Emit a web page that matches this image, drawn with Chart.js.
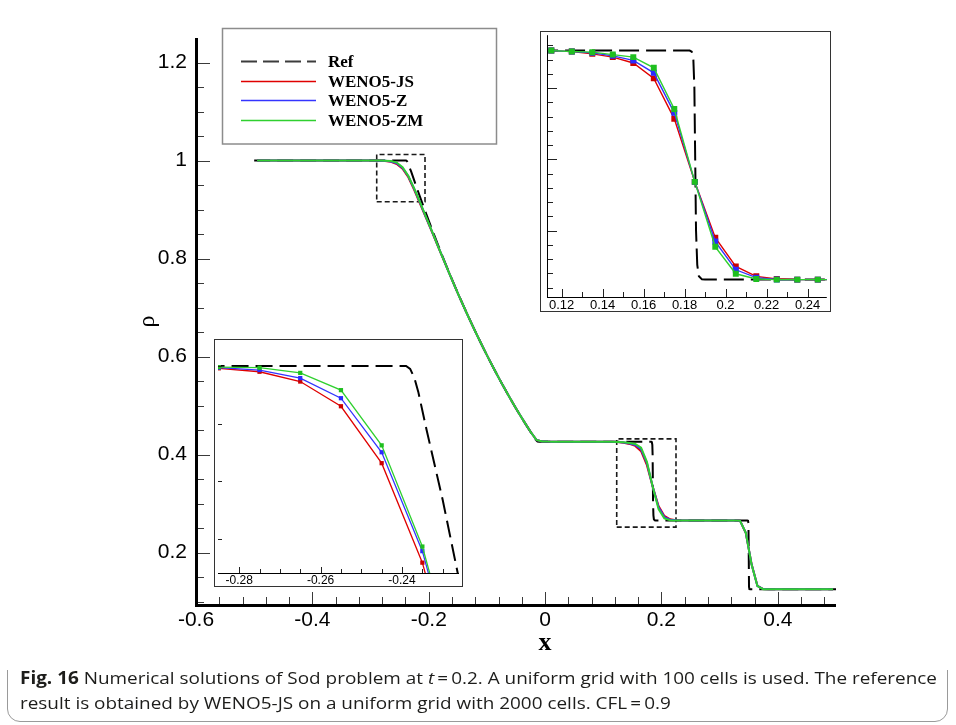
<!DOCTYPE html>
<html><head><meta charset="utf-8">
<script src="https://cdn.jsdelivr.net/npm/chart.js@4.4.1/dist/chart.umd.min.js"></script>
<style>
html,body{margin:0;padding:0;background:#fff;}
body{width:956px;height:725px;position:relative;overflow:hidden;}
#frame{position:absolute;left:7px;top:6px;width:941px;height:716px;border:1px solid #9a9a9a;border-radius:13px;box-sizing:border-box;}
canvas{position:absolute;}
.cap{position:absolute;left:20px;font-family:"Open Sans",sans-serif;font-size:17px;line-height:20px;color:#1d1d1b;white-space:nowrap;transform-origin:0 0;}
</style></head>
<body>
<div id="frame"></div>
<canvas id="main" width="956" height="670" style="left:0;top:0"></canvas>
<canvas id="in1" width="291" height="281" style="left:540px;top:31px"></canvas>
<canvas id="in2" width="249" height="248" style="left:214px;top:339px"></canvas>
<div class="cap" id="cap1" style="top:668px"><b>Fig. 16</b> Numerical solutions of Sod problem at <i>t</i>&thinsp;=&thinsp;0.2. A uniform grid with 100 cells is used. The reference</div>
<div class="cap" id="cap2" style="top:693px">result is obtained by WENO5-JS on a uniform grid with 2000 cells. CFL&thinsp;=&thinsp;0.9</div>
<script>
// ---------------- data ----------------
const xCells = [-0.495,-0.485,-0.475,-0.465,-0.455,-0.445,-0.435,-0.425,-0.415,-0.405,
-0.395,-0.385,-0.375,-0.365,-0.355,-0.345,-0.335,-0.325,-0.315,-0.305,
-0.295,-0.285,-0.275,-0.265,-0.255,-0.245,-0.235,-0.225,-0.215,-0.205,
-0.195,-0.185,-0.175,-0.165,-0.155,-0.145,-0.135,-0.125,-0.115,-0.105,
-0.095,-0.085,-0.075,-0.065,-0.055,-0.045,-0.035,-0.025,-0.015,-0.005,
0.005,0.015,0.025,0.035,0.045,0.055,0.065,0.075,0.085,0.095,
0.105,0.115,0.125,0.135,0.145,0.155,0.165,0.175,0.185,0.195,
0.205,0.215,0.225,0.235,0.245,0.255,0.265,0.275,0.285,0.295,
0.305,0.315,0.325,0.335,0.345,0.355,0.365,0.375,0.385,0.395,
0.405,0.415,0.425,0.435,0.445,0.455,0.465,0.475,0.485,0.495];

const rhoJS = [1,1,1,1,1,1,1,1,1,1,
1,1,1,1,1,1,1,1,1,1,
1.0,0.9996,0.9990,0.9973,0.9930,0.9831,0.9658,0.9400,0.9120,0.8840,
0.8560,0.8275,0.7990,0.7705,0.7428,0.7157,0.6893,0.6637,0.6388,0.6146,
0.5912,0.5684,0.5463,0.5250,0.5043,0.4843,0.4651,0.4466,0.4298,0.4268,
0.4264,0.4263,0.4263,0.4263,0.4263,0.4263,0.4263,0.4263,0.4263,0.4263,
0.4263,0.4263,0.4256,0.4240,0.4217,0.4176,0.4068,0.3784,0.3342,0.2950,
0.2748,0.2679,0.2660,0.2656,0.2656,0.2656,0.2656,0.2656,0.2656,0.2656,
0.2656,0.2656,0.2656,0.2652,0.2400,0.1760,0.1320,0.1255,0.1250,0.1250,
0.125,0.125,0.125,0.125,0.125,0.125,0.125,0.125,0.125,0.125];

const rhoZ = [1,1,1,1,1,1,1,1,1,1,
1,1,1,1,1,1,1,1,1,1,
1.0,0.9997,0.9993,0.9979,0.9944,0.9850,0.9678,0.9420,0.9140,0.8850,
0.8570,0.8278,0.7992,0.7706,0.7428,0.7157,0.6893,0.6637,0.6388,0.6146,
0.5912,0.5684,0.5463,0.5250,0.5043,0.4843,0.4651,0.4466,0.4298,0.4268,
0.4264,0.4263,0.4263,0.4263,0.4263,0.4263,0.4263,0.4263,0.4263,0.4263,
0.4263,0.4263,0.4256,0.4247,0.4226,0.4194,0.4107,0.3826,0.3342,0.2923,
0.2725,0.2670,0.2657,0.2656,0.2656,0.2656,0.2656,0.2656,0.2656,0.2656,
0.2656,0.2656,0.2656,0.2652,0.2402,0.1755,0.1318,0.1254,0.1250,0.1250,
0.125,0.125,0.125,0.125,0.125,0.125,0.125,0.125,0.125,0.125];

const rhoZM = [1,1,1,1,1,1,1,1,1,1,
1,1,1,1,1,1,1,1,1,1,
1.0,0.9998,0.9997,0.9988,0.9958,0.9862,0.9686,0.9430,0.9150,0.8860,
0.8575,0.8280,0.7993,0.7707,0.7428,0.7157,0.6893,0.6637,0.6388,0.6146,
0.5912,0.5684,0.5463,0.5250,0.5043,0.4843,0.4651,0.4466,0.4298,0.4268,
0.4264,0.4263,0.4263,0.4263,0.4263,0.4263,0.4263,0.4263,0.4263,0.4263,
0.4263,0.4263,0.4257,0.4252,0.4235,0.4217,0.4142,0.3853,0.3342,0.2886,
0.2697,0.2660,0.2656,0.2656,0.2656,0.2656,0.2656,0.2656,0.2656,0.2656,
0.2656,0.2656,0.2656,0.2652,0.2405,0.1750,0.1315,0.1253,0.1250,0.1250,
0.125,0.125,0.125,0.125,0.125,0.125,0.125,0.125,0.125,0.125];

const refX = [-0.5,-0.2390,-0.2380,-0.2370,-0.2360,-0.2340,-0.2300,-0.2260,-0.2200,-0.2100,
-0.2000,-0.1900,-0.1800,-0.1700,-0.1600,-0.1500,-0.1400,-0.1300,-0.1200,-0.1100,
-0.1000,-0.0900,-0.0800,-0.0700,-0.0600,-0.0500,-0.0400,-0.0300,-0.0200,-0.0160,
-0.0130,-0.0100,0.1825,0.1835,0.1843,0.1848,0.1852,0.1856,0.1862,0.1870,
0.1885,0.1900,0.3475,0.3488,0.3495,0.3500,0.3505,0.3512,0.3530,0.5];
const refY = [1.0,1.0,0.9995,0.9980,0.9955,0.9890,0.9767,0.9629,0.9426,0.9095,
0.8773,0.8461,0.8157,0.7862,0.7576,0.7298,0.7028,0.6767,0.6513,0.6267,
0.6029,0.5797,0.5573,0.5356,0.5146,0.4942,0.4745,0.4554,0.4369,0.4300,
0.4267,0.4263,0.4263,0.4255,0.4200,0.4000,0.3500,0.3000,0.2760,0.2680,
0.2658,0.2656,0.2656,0.2650,0.2600,0.2000,0.1300,0.1255,0.1250,0.125];

// zoom-window rectangles drawn on the main plot (data units)
const zoomBox1X = [0.1231, 0.2250], zoomBox1Y = [0.252, 0.432];
const zoomBox2X = [-0.2894, -0.2064], zoomBox2Y = [0.916, 1.0124];

const seriesLabels = ['Ref','WENO5-JS','WENO5-Z','WENO5-ZM'];

// tick values
const mainXTicks = [-0.6,-0.4,-0.2,0,0.2,0.4];
const mainXMinor = [-0.56,-0.52,-0.48,-0.44,-0.36,-0.32,-0.28,-0.24,-0.16,-0.12,-0.08,-0.04,0.04,0.08,0.12,0.16,0.24,0.28,0.32,0.36,0.44,0.48];
const mainYTicks = [0.2,0.4,0.6,0.8,1,1.2];
const mainYMinor = [0.1,0.15,0.25,0.3,0.35,0.45,0.5,0.55,0.65,0.7,0.75,0.85,0.9,0.95,1.05,1.1,1.15];
const in1XTicks = [0.12,0.14,0.16,0.18,0.2,0.22,0.24];
const in1XMinor = [0.13,0.15,0.17,0.19,0.21,0.23];
const in1YMajor = [0.3,0.35,0.4];
const in1YMinor = [0.26,0.27,0.28,0.29,0.31,0.32,0.33,0.34,0.36,0.37,0.38,0.39,0.41,0.42,0.43];
const in2XTicks = [-0.28,-0.26,-0.24];
const in2XMinor = [-0.275,-0.27,-0.265,-0.255,-0.25,-0.245,-0.235,-0.23];
const in2YMajor = [0.97,0.98,0.99,1.0];
const in2YMinor = [];

// ---------------- helpers ----------------
Chart.defaults.font.family = "'Liberation Sans', Arimo, Arial, sans-serif";
Chart.defaults.color = '#000';

const LINE = ['#000000','#e00000','#3434ff','#2fd02f'];
const MARK = ['#000000','#cc0000','#2a2aff','#1fbf1f'];

function pts(xs, ys){ return xs.map((x,i)=>({x:x, y:ys[i]})); }
function boxPts(bx, by){
  return [{x:bx[0],y:by[0]},{x:bx[1],y:by[0]},{x:bx[1],y:by[1]},{x:bx[0],y:by[1]},{x:bx[0],y:by[0]}];
}
function series(o){
  const ys = [refY, rhoJS, rhoZ, rhoZM];
  return ys.map((arr,i)=>{
    if(i===0) return {label:seriesLabels[0], data:pts(refX, refY), borderColor:LINE[0], borderWidth:o.refW,
      borderDash:o.refDash, pointRadius:0, order:4, legendDash:[16,6], legendColor:'#3c3c3c', legendW:2};
    return {label:seriesLabels[i], data:pts(xCells, arr), borderColor:LINE[i], borderWidth:o.lineW,
      pointRadius:o.markR, pointStyle:'rect', pointBackgroundColor:MARK[i], pointBorderColor:MARK[i],
      pointBorderWidth:0, order:4-i, legendW:1.6};
  });
}
function xScale(min,max,ticks,size,pad,h){
  return {type:'linear', min:min, max:max, position:'bottom',
    grid:{display:false, drawTicks:false}, border:{display:false},
    ticks:{font:{size:size}, padding:pad, color:'#000', maxRotation:0, autoSkip:false, callback:v=>String(v)},
    afterBuildTicks:s=>{ s.ticks = ticks.map(v=>({value:v})); },
    afterFit:s=>{ s.height = h; s.paddingLeft = 0; s.paddingRight = 0; }};
}

const axesPlugin = {
  id:'axesDraw',
  beforeDraw(chart, args, o){
    const c = chart.ctx; c.save(); c.fillStyle = '#fff'; c.fillRect(0,0,chart.width,chart.height); c.restore();
  },
  afterDatasetsDraw(chart, args, o){
    const c = chart.ctx, a = chart.chartArea, xs = chart.scales.x, ys = chart.scales.y;
    c.save();
    c.setLineDash([]);
    c.strokeStyle = o.tickColor; c.lineWidth = 1;
    const yb = a.bottom, xl = a.left;
    const xt = (vals, len)=>{ vals.forEach(v=>{ const p = Math.round(xs.getPixelForValue(v))+0.5;
      c.beginPath(); c.moveTo(p, yb); c.lineTo(p, yb-len); c.stroke(); }); };
    const yt = (vals, len)=>{ vals.forEach(v=>{ const p = Math.round(ys.getPixelForValue(v))+0.5;
      c.beginPath(); c.moveTo(xl, p); c.lineTo(xl+len, p); c.stroke(); }); };
    xt(o.xMajor, o.xMajLen); xt(o.xMinor, o.xMinLen);
    yt(o.yMajor, o.yMajLen); yt(o.yMinor, o.yMinLen);
    // axis lines
    c.strokeStyle = '#000'; c.lineWidth = o.axisW;
    const off = (o.axisW % 2 === 1) ? 0.5 : 0;
    const by = Math.round(yb)+off, lx = Math.round(xl)+off;
    c.beginPath(); c.moveTo(lx - o.axisW/2, by); c.lineTo(a.right, by); c.stroke();
    if(o.leftAxis){ c.beginPath(); c.moveTo(lx, a.top); c.lineTo(lx, by + o.axisW/2); c.stroke(); }
    c.restore();
  },
  afterDraw(chart, args, o){
    const c = chart.ctx;
    c.save();
    if(o.frame){ c.strokeStyle = o.frame; c.lineWidth = 1; c.strokeRect(0.5,0.5,chart.width-1,chart.height-1); }
    if(o.xTitle){
      c.fillStyle = '#000'; c.font = "bold 26px 'Liberation Serif', 'Times New Roman', serif";
      c.textAlign = 'center'; c.textBaseline = 'middle';
      c.fillText(o.xTitle, chart.scales.x.getPixelForValue(o.xTitleAt), o.xTitleY);
    }
    c.restore();
  }
};

const legendPlugin = {
  id:'boxLegend',
  afterDraw(chart, args, o){
    if(!o.show) return;
    const c = chart.ctx; c.save();
    c.fillStyle = '#fff'; c.fillRect(o.x, o.y, o.w, o.h);
    c.strokeStyle = '#8c8c8c'; c.lineWidth = 1.5; c.strokeRect(o.x, o.y, o.w, o.h);
    const items = chart.data.datasets.filter(d=>d.label);
    c.font = "bold 17px 'Liberation Serif', 'Times New Roman', serif";
    c.textBaseline = 'middle'; c.textAlign = 'left';
    items.forEach((d,i)=>{
      const yy = Math.round(o.row0 + i*o.rowGap) + 0.5;
      c.strokeStyle = d.legendColor || d.borderColor; c.lineWidth = d.legendW;
      c.setLineDash(d.legendDash || []);
      c.beginPath(); c.moveTo(o.lx0, yy); c.lineTo(o.lx1, yy); c.stroke();
      c.setLineDash([]);
      c.fillStyle = '#000'; c.fillText(d.label, o.tx, yy+1);
    });
    c.restore();
  }
};

const common = {responsive:false, animation:false, events:[], devicePixelRatio:1};

// ---------------- main chart ----------------
const mainSets = series({refW:2, refDash:[16,7], lineW:2, markR:0});
mainSets.push({data:boxPts(zoomBox1X, zoomBox1Y), borderColor:'#1a1a1a', borderWidth:1.6, borderDash:[5,3], pointRadius:0, order:5});
mainSets.push({data:boxPts(zoomBox2X, zoomBox2Y), borderColor:'#1a1a1a', borderWidth:1.6, borderDash:[5,3], pointRadius:0, order:5});

new Chart(document.getElementById('main'), {
  type:'line',
  data:{datasets:mainSets},
  options:Object.assign({}, common, {
    layout:{padding:{left:130, right:120, top:38, bottom:9}},
    elements:{line:{tension:0}},
    scales:{
      x: xScale(-0.6, 0.5, mainXTicks, 21, 3, 56),
      y: {type:'linear', min:0.093, max:1.25, position:'left',
        grid:{display:false, drawTicks:false}, border:{display:false},
        ticks:{font:{size:21}, padding:9, color:'#000', callback:v=>String(v)},
        afterBuildTicks:s=>{ s.ticks = mainYTicks.map(v=>({value:v})); },
        afterFit:s=>{ s.width = 66; s.paddingTop = 0; s.paddingBottom = 0; },
        title:{display:true, text:'ρ', color:'#000', font:{family:"'Liberation Serif', serif", size:24}, padding:{top:3, bottom:0}}}
    },
    plugins:{legend:{display:false}, tooltip:{enabled:false},
      axesDraw:{xMajor:mainXTicks, xMinor:mainXMinor, yMajor:mainYTicks, yMinor:mainYMinor,
        xMajLen:13, xMinLen:8, yMajLen:14, yMinLen:8, axisW:3, tickColor:'#3a3a3a', leftAxis:true,
        xTitle:'x', xTitleAt:0, xTitleY:643},
      boxLegend:{show:true, x:222.5, y:28.5, w:274, h:115.5, row0:61, rowGap:19.5, lx0:241, lx1:316, tx:328}}
  }),
  plugins:[axesPlugin, legendPlugin]
});

// ---------------- inset 1 (contact discontinuity) ----------------
new Chart(document.getElementById('in1'), {
  type:'line',
  data:{datasets:series({refW:2, refDash:[20,7], lineW:1.4, markR:4.2})},
  options:Object.assign({}, common, {
    layout:{padding:{left:7, right:1, top:0, bottom:0}},
    elements:{line:{tension:0}},
    scales:{
      x: xScale(0.1129, 0.2494, in1XTicks, 13, 1, 15),
      y: {type:'linear', min:0.2534, max:0.4371, display:false}
    },
    plugins:{legend:{display:false}, tooltip:{enabled:false},
      axesDraw:{xMajor:in1XTicks, xMinor:in1XMinor, yMajor:in1YMajor, yMinor:in1YMinor,
        xMajLen:8, xMinLen:5, yMajLen:10, yMinLen:6, axisW:1, tickColor:'#222', leftAxis:true, frame:'#333'},
      boxLegend:{show:false}}
  }),
  plugins:[axesPlugin]
});

// ---------------- inset 2 (rarefaction head) ----------------
new Chart(document.getElementById('in2'), {
  type:'line',
  data:{datasets:series({refW:2, refDash:[17,7], lineW:1.3, markR:3})},
  options:Object.assign({}, common, {
    layout:{padding:{left:0, right:0, top:0, bottom:0}},
    elements:{line:{tension:0}},
    scales:{
      x: xScale(-0.2852, -0.2260, in2XTicks, 12, 0, 14),
      y: {type:'linear', min:0.964, max:1.004, display:false}
    },
    plugins:{legend:{display:false}, tooltip:{enabled:false},
      axesDraw:{xMajor:in2XTicks, xMinor:in2XMinor, yMajor:in2YMajor, yMinor:in2YMinor,
        xMajLen:6, xMinLen:4, yMajLen:4, yMinLen:2, axisW:1, tickColor:'#222', leftAxis:false, frame:'#333'},
      boxLegend:{show:false}}
  }),
  plugins:[axesPlugin]
});

// ---------------- caption width fit ----------------
const c1 = document.getElementById('cap1'), c2 = document.getElementById('cap2');
const f = 917 / c1.getBoundingClientRect().width;
c1.style.transform = 'scaleX(' + f + ')';
c2.style.transform = 'scaleX(' + f + ')';
</script>
</body></html>
